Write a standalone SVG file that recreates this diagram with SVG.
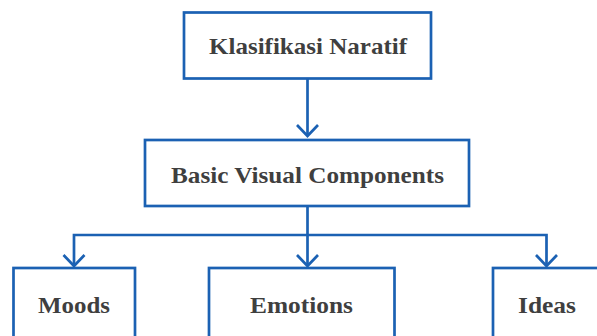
<svg xmlns="http://www.w3.org/2000/svg" width="597" height="336" viewBox="0 0 597 336">
<style>
.box{fill:#fff;stroke:#1b61b3;stroke-width:2.7}
.ln{fill:none;stroke:#1b61b3;stroke-width:2.7}
.t{font-family:"Liberation Serif","DejaVu Serif",serif;font-weight:bold;font-size:24px;fill:#3f3f3f;text-anchor:middle}
</style>
<defs>
<marker id="ah" viewBox="-14 -12 16 24" refX="0" refY="0" markerWidth="16" markerHeight="24" markerUnits="userSpaceOnUse" orient="auto">
<path d="M-11,-10.5 L0,0 L-11,10.5" fill="none" stroke="#1b61b3" stroke-width="2.7"/>
</marker>
</defs>
<rect width="597" height="336" fill="#fff"/>
<g id="connectors">
<path class="ln" d="M307.5,78 V136" marker-end="url(#ah)"/>
<path class="ln" d="M307.5,206 V266" marker-end="url(#ah)"/>
<path class="ln" d="M307.5,235 H74 V266" marker-end="url(#ah)"/>
<path class="ln" d="M307.5,235 H546.5 V266" marker-end="url(#ah)"/>
</g>
<g id="n1"><rect class="box" x="184" y="12.5" width="247" height="66"/><text class="t" x="308" y="54" textLength="198" lengthAdjust="spacingAndGlyphs">Klasifikasi Naratif</text></g>
<g id="n2"><rect class="box" x="145" y="140" width="324" height="66"/><text class="t" x="307.5" y="183" textLength="273" lengthAdjust="spacingAndGlyphs">Basic Visual Components</text></g>
<g id="n3"><rect class="box" x="13.5" y="268" width="121.5" height="90"/><text class="t" x="74" y="313" textLength="72" lengthAdjust="spacingAndGlyphs">Moods</text></g>
<g id="n4"><rect class="box" x="209" y="268" width="185.5" height="90"/><text class="t" x="301.5" y="313" textLength="103" lengthAdjust="spacingAndGlyphs">Emotions</text></g>
<g id="n5"><rect class="box" x="493" y="268" width="130" height="90"/><text class="t" x="547" y="313" textLength="58" lengthAdjust="spacingAndGlyphs">Ideas</text></g>
</svg>
